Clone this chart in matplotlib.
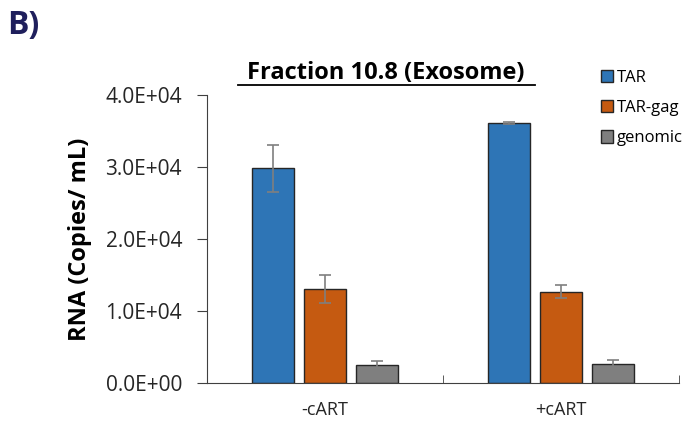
import numpy as np
import matplotlib
matplotlib.use("Agg")
import matplotlib.pyplot as plt
from matplotlib.patches import Patch

plt.rcParams['font.family'] = ['Open Sans', 'DejaVu Sans']

# values
groups = ["-cART", "+cART"]
series = ["TAR", "TAR-gag", "genomic"]
tar = [29800, 36150]
tar_gag = [13000, 12650]
genomic = [2550, 2700]
tar_err = [3300, 120]
tar_gag_err = [1950, 900]
genomic_err = [500, 500]
colors = ["#2E75B6", "#C55A11", "#7F7F7F"]

fig = plt.figure(figsize=(6.91, 4.22), dpi=100)
ax = fig.add_axes([0.2996, 0.0924, 0.6830, 0.6825])

x = np.arange(len(groups))
width = 0.178
offsets = [-0.22, 0.0, 0.22]
for vals, errs, off, col, name in zip([tar, tar_gag, genomic],
                                      [tar_err, tar_gag_err, genomic_err],
                                      offsets, colors, series):
    ax.bar(x + off, vals, width, color=col, edgecolor="#262626",
           linewidth=1.0, label=name, zorder=2)
    ax.errorbar(x + off, vals, yerr=errs, fmt="none", ecolor="#7F7F7F",
                elinewidth=1.2, capsize=4, capthick=1.2, zorder=3)

ax.set_xlim(-0.5, 1.5)
ax.set_ylim(0, 40000)
ax.set_yticks([0, 10000, 20000, 30000, 40000])
ax.set_yticklabels(["0.0E+00", "1.0E+04", "2.0E+04", "3.0E+04", "4.0E+04"])
ax.set_xticks(x)
ax.set_xticklabels(groups)
ax.set_xticks([0.5, 1.5], minor=True)
ax.tick_params(axis="x", which="major", length=0, labelsize=13, pad=13,
               labelcolor="#262626")
ax.tick_params(axis="x", which="minor", direction="in", length=6,
               color="#404040")
ax.tick_params(axis="y", length=7, color="#404040", labelsize=15,
               labelcolor="#262626", pad=11)

for s in ["top", "right"]:
    ax.spines[s].set_visible(False)
ax.spines["left"].set_color("#404040")
ax.spines["bottom"].set_color("#404040")

ax.set_ylabel("RNA (Copies/ mL)", fontsize=17, fontweight="bold",
              color="black")
ax.yaxis.set_label_coords(-0.244, 0.5, transform=ax.transAxes)

fig.text(0.5586, 0.827, "Fraction 10.8 (Exosome)", fontsize=17,
         fontweight="bold", ha="center", va="center")
# underline under the title
fig.add_artist(plt.Line2D([0.344, 0.774], [0.7986, 0.7986],
                          color="black", linewidth=1.3))

fig.text(0.01, 0.94, "B)", fontsize=23, fontweight="bold",
         color="#1F1F5C", ha="left", va="center")

handles = [Patch(facecolor=c, edgecolor="#262626", label=n)
           for c, n in zip(colors, series)]
fig.legend(handles=handles, loc="upper left", bbox_to_anchor=(0.86, 0.85),
           frameon=False, fontsize=12, handlelength=0.75, handleheight=0.75,
           handletextpad=0.2, labelspacing=0.85, borderaxespad=0)

fig.savefig("out.png", dpi=100)
